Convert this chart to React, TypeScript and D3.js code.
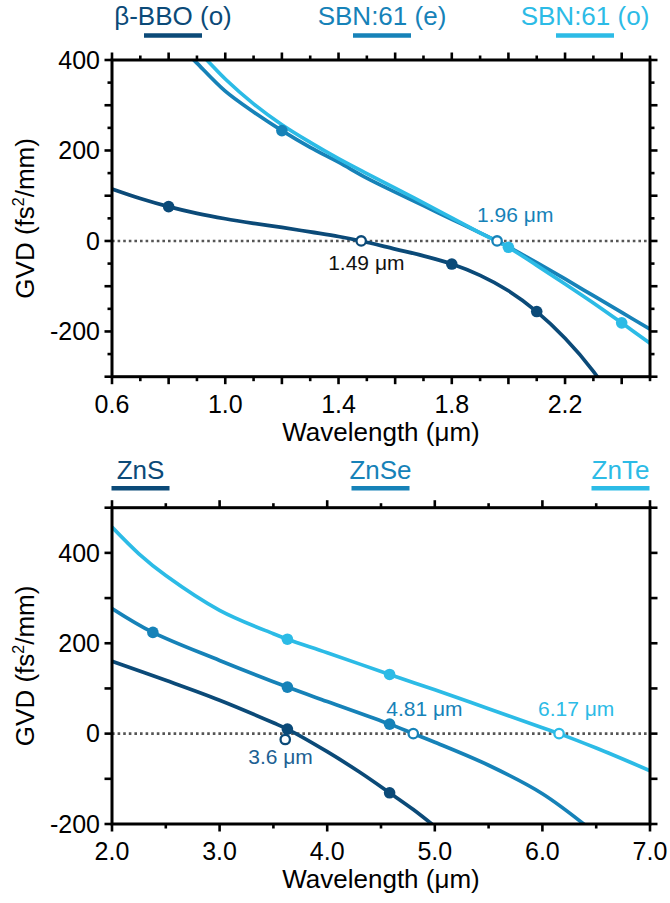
import React from 'react';
import * as d3 from 'd3';

const W = 670;
const H = 903;
const FONT = "'Liberation Sans', Arial, Helvetica, sans-serif";
const DARK = '#0b4a78';
const MED = '#1682b8';
const LIGHT = '#2cbbe6';
const ANN_DARK = '#111111';
const ANN_ZNS = '#1d6193';

// ---------- Top panel data (GVD in fs^2/mm vs wavelength in µm) ----------
const bboWl = [0.6, 0.7, 0.8, 0.9, 1.0, 1.1, 1.2, 1.3, 1.4, 1.48, 1.6, 1.7, 1.8, 1.9, 2.0, 2.1, 2.2, 2.3, 2.34];
const bboGvd = [115, 94, 76, 61, 49, 39, 30, 20, 10, 0, -18, -33, -51, -76, -110, -156, -215, -288, -325];

const sbnEWl = [0.87, 0.9, 1.0, 1.1, 1.2, 1.3, 1.4, 1.5, 1.6, 1.7, 1.8, 1.9, 1.96, 2.0, 2.1, 2.2, 2.3, 2.4, 2.5];
const sbnEGvd = [412, 393, 331, 285, 244, 207, 174, 139, 108, 78, 48, 18, 0, -13, -48, -84, -121, -158, -195];

const sbnOWl = [0.92, 0.95, 1.0, 1.1, 1.2, 1.3, 1.4, 1.5, 1.6, 1.7, 1.8, 1.9, 2.0, 2.1, 2.2, 2.3, 2.4, 2.5];
const sbnOGvd = [410, 390, 358, 303, 257, 218, 182, 149, 117, 84, 51, 18, -14, -54, -95, -137, -181, -226];

const bboDotsWl = [0.8, 1.8, 2.1];
const bboDotsGvd = [76, -51, -156];
const sbnEDotsWl = [1.2];
const sbnEDotsGvd = [244];
const sbnODotsWl = [2.0, 2.4];
const sbnODotsGvd = [-14, -181];
const bboZeroWl = [1.48];
const bboZeroGvd = [0];
const sbnZeroWl = [1.96];
const sbnZeroGvd = [0];

const topXTickLabels = ['0.6', '1.0', '1.4', '1.8', '2.2'];
const topXTickValues = [0.6, 1.0, 1.4, 1.8, 2.2];
const topYTickLabels = ['400', '200', '0', '-200'];
const topYTickValues = [400, 200, 0, -200];

// ---------- Bottom panel data ----------
const znsWl = [2.0, 2.5, 3.0, 3.5, 3.63, 4.0, 4.3, 4.58, 4.8, 5.05];
const znsGvd = [160, 118, 74, 24, 10, -40, -85, -131, -168, -215];

const znseWl = [2.0, 2.38, 3.0, 3.63, 4.0, 4.58, 4.8, 5.0, 5.5, 6.0, 6.5];
const znseGvd = [277, 224, 162, 103, 71, 21, 0, -19, -70, -133, -222];

const znteWl = [2.0, 2.25, 2.5, 3.0, 3.5, 3.63, 4.0, 4.58, 5.0, 5.5, 6.0, 6.155, 6.5, 7.0];
const znteGvd = [457, 398, 350, 273, 221, 209, 179, 131, 97, 55, 13, 0, -32, -82];

const znsDotsWl = [3.63, 4.58];
const znsDotsGvd = [10, -131];
const znsOpenWl = [3.61];
const znsOpenGvd = [-13];
const znseDotsWl = [2.38, 3.63, 4.58];
const znseDotsGvd = [224, 103, 21];
const znseOpenWl = [4.8];
const znseOpenGvd = [0];
const znteDotsWl = [3.63, 4.58];
const znteDotsGvd = [209, 131];
const znteOpenWl = [6.155];
const znteOpenGvd = [0];

const botXTickLabels = ['2.0', '3.0', '4.0', '5.0', '6.0', '7.0'];
const botXTickValues = [2, 3, 4, 5, 6, 7];
const botYTickLabels = ['400', '200', '0', '-200'];
const botYTickValues = [400, 200, 0, -200];

const zip = (a: number[], b: number[]): [number, number][] => a.map((v, i) => [v, b[i]]);

type Series = { pts: [number, number][]; color: string };
type Marks = { pts: [number, number][]; color: string; open: boolean };
type Ann = { text: string; at: [number, number]; dx: number; dy: number; color: string };
type Leg = { text: string; color: string; cx: number };

type PanelCfg = {
  id: string;
  xDomain: [number, number];
  yDomain: [number, number];
  top: number;
  bottom: number;
  xMajor: number[];
  xMinor: number[];
  yMajor: number[];
  yMinor: number[];
  xLabelVals: number[];
  xLabels: string[];
  yLabelVals: number[];
  yLabels: string[];
  series: Series[];
  marks: Marks[];
  anns: Ann[];
  legend: Leg[];
  legendTextY: number;
  legendLineY: number;
};

const X0 = 112;
const X1 = 650;
const MAJ = 7.5;
const MIN = 4.5;

function Panel({ cfg }: { cfg: PanelCfg }) {
  const x = d3.scaleLinear().domain(cfg.xDomain).range([X0, X1]);
  const y = d3.scaleLinear().domain(cfg.yDomain).range([cfg.bottom, cfg.top]);
  const line = d3
    .line<[number, number]>()
    .x((d) => x(d[0]))
    .y((d) => y(d[1]))
    .curve(d3.curveCatmullRom.alpha(0.5));
  const clipId = `clip-${cfg.id}`;
  const midY = (cfg.top + cfg.bottom) / 2;
  const midX = (X0 + X1) / 2;
  return (
    <g>
      <defs>
        <clipPath id={clipId}>
          <rect x={X0} y={cfg.top} width={X1 - X0} height={cfg.bottom - cfg.top} />
        </clipPath>
      </defs>
      {/* legend */}
      {cfg.legend.map((l, i) => (
        <g key={`leg${i}`}>
          <text x={l.cx} y={cfg.legendTextY} textAnchor="middle" fontSize={26} fill={l.color} fontFamily={FONT}>
            {l.text}
          </text>
          <line x1={l.cx - 29} x2={l.cx + 29} y1={cfg.legendLineY} y2={cfg.legendLineY} stroke={l.color} strokeWidth={4.6} />
        </g>
      ))}
      {/* zero line */}
      <line x1={X0} x2={X1} y1={y(0)} y2={y(0)} stroke="#555" strokeWidth={2.6} strokeDasharray="2.6,3" />
      {/* curves */}
      <g clipPath={`url(#${clipId})`}>
        {cfg.series.map((s, i) => (
          <path key={`s${i}`} d={line(s.pts) || ''} fill="none" stroke={s.color} strokeWidth={3.7} strokeLinejoin="round" />
        ))}
      </g>
      {/* markers */}
      {cfg.marks.map((m, i) =>
        m.pts.map((p, j) =>
          m.open ? (
            <circle key={`m${i}-${j}`} cx={x(p[0])} cy={y(p[1])} r={4.7} fill="#fff" stroke={m.color} strokeWidth={2.3} />
          ) : (
            <circle key={`m${i}-${j}`} cx={x(p[0])} cy={y(p[1])} r={5.8} fill={m.color} />
          )
        )
      )}
      {/* annotations */}
      {cfg.anns.map((a, i) => (
        <text key={`a${i}`} x={x(a.at[0]) + a.dx} y={y(a.at[1]) + a.dy} fontSize={21} fill={a.color} fontFamily={FONT}>
          {a.text}
        </text>
      ))}
      {/* frame */}
      <rect x={X0} y={cfg.top} width={X1 - X0} height={cfg.bottom - cfg.top} fill="none" stroke="#000" strokeWidth={3} />
      {/* ticks */}
      <g stroke="#000" strokeWidth={2.6}>
        {cfg.xMajor.map((v) => (
          <g key={`xM${v}`}>
            <line x1={x(v)} x2={x(v)} y1={cfg.bottom} y2={cfg.bottom + MAJ} />
            <line x1={x(v)} x2={x(v)} y1={cfg.top} y2={cfg.top - MAJ} />
          </g>
        ))}
        {cfg.xMinor.map((v) => (
          <g key={`xm${v}`}>
            <line x1={x(v)} x2={x(v)} y1={cfg.bottom} y2={cfg.bottom + MIN} />
            <line x1={x(v)} x2={x(v)} y1={cfg.top} y2={cfg.top - MIN} />
          </g>
        ))}
        {cfg.yMajor.map((v) => (
          <g key={`yM${v}`}>
            <line x1={X0} x2={X0 - MAJ} y1={y(v)} y2={y(v)} />
            <line x1={X1} x2={X1 + MAJ} y1={y(v)} y2={y(v)} />
          </g>
        ))}
        {cfg.yMinor.map((v) => (
          <g key={`ym${v}`}>
            <line x1={X0} x2={X0 - MIN} y1={y(v)} y2={y(v)} />
            <line x1={X1} x2={X1 + MIN} y1={y(v)} y2={y(v)} />
          </g>
        ))}
      </g>
      {/* tick labels */}
      {cfg.xLabelVals.map((v, i) => (
        <text key={`xl${i}`} x={x(v)} y={cfg.bottom + 36} textAnchor="middle" fontSize={25} fontFamily={FONT} fill="#000">
          {cfg.xLabels[i]}
        </text>
      ))}
      {cfg.yLabelVals.map((v, i) => (
        <text key={`yl${i}`} x={100} y={y(v)} dy="0.35em" textAnchor="end" fontSize={25} fontFamily={FONT} fill="#000">
          {cfg.yLabels[i]}
        </text>
      ))}
      {/* axis titles */}
      <text x={midX} y={cfg.bottom + 64} textAnchor="middle" fontSize={26} fontFamily={FONT} fill="#000">
        Wavelength (μm)
      </text>
      <text transform={`translate(34,${midY}) rotate(-90)`} textAnchor="middle" fontSize={26} fontFamily={FONT} fill="#000">
        GVD (fs<tspan fontSize={16} dy={-10}>2</tspan>
        <tspan dy={10}>/mm)</tspan>
      </text>
    </g>
  );
}

const range = (a: number, b: number, s: number) => d3.range(a, b + s / 2, s).map((v) => +v.toFixed(3));

export default function App() {
  const topCfg: PanelCfg = {
    id: 'top',
    xDomain: [0.6, 2.5],
    yDomain: [-300, 400],
    top: 60,
    bottom: 376.7,
    xMajor: range(0.6, 2.4, 0.2),
    xMinor: range(0.7, 2.5, 0.2),
    yMajor: range(-300, 400, 100),
    yMinor: range(-250, 350, 100),
    xLabelVals: topXTickValues,
    xLabels: topXTickLabels,
    yLabelVals: topYTickValues,
    yLabels: topYTickLabels,
    series: [
      { pts: zip(bboWl, bboGvd), color: DARK },
      { pts: zip(sbnEWl, sbnEGvd), color: MED },
      { pts: zip(sbnOWl, sbnOGvd), color: LIGHT },
    ],
    marks: [
      { pts: zip(bboDotsWl, bboDotsGvd), color: DARK, open: false },
      { pts: zip(sbnEDotsWl, sbnEDotsGvd), color: MED, open: false },
      { pts: zip(sbnODotsWl, sbnODotsGvd), color: LIGHT, open: false },
      { pts: zip(bboZeroWl, bboZeroGvd), color: DARK, open: true },
      { pts: zip(sbnZeroWl, sbnZeroGvd), color: MED, open: true },
    ],
    anns: [
      { text: '1.49 μm', at: [1.48, 0], dx: -33, dy: 29, color: ANN_DARK },
      { text: '1.96 μm', at: [1.96, 0], dx: -20, dy: -19, color: MED },
    ],
    legend: [
      { text: 'β-BBO (o)', color: DARK, cx: 173 },
      { text: 'SBN:61 (e)', color: MED, cx: 382 },
      { text: 'SBN:61 (o)', color: LIGHT, cx: 585 },
    ],
    legendTextY: 25,
    legendLineY: 35.5,
  };

  const botCfg: PanelCfg = {
    id: 'bot',
    xDomain: [2, 7],
    yDomain: [-200, 500],
    top: 507.7,
    bottom: 824,
    xMajor: range(2, 7, 1),
    xMinor: range(2.5, 6.5, 1),
    yMajor: range(-200, 500, 100),
    yMinor: [],
    xLabelVals: botXTickValues,
    xLabels: botXTickLabels,
    yLabelVals: botYTickValues,
    yLabels: botYTickLabels,
    series: [
      { pts: zip(znsWl, znsGvd), color: DARK },
      { pts: zip(znseWl, znseGvd), color: MED },
      { pts: zip(znteWl, znteGvd), color: LIGHT },
    ],
    marks: [
      { pts: zip(znsDotsWl, znsDotsGvd), color: DARK, open: false },
      { pts: zip(znseDotsWl, znseDotsGvd), color: MED, open: false },
      { pts: zip(znteDotsWl, znteDotsGvd), color: LIGHT, open: false },
      { pts: zip(znsOpenWl, znsOpenGvd), color: DARK, open: true },
      { pts: zip(znseOpenWl, znseOpenGvd), color: MED, open: true },
      { pts: zip(znteOpenWl, znteOpenGvd), color: LIGHT, open: true },
    ],
    anns: [
      { text: '3.6 μm', at: [3.61, 0], dx: -37, dy: 30, color: ANN_ZNS },
      { text: '4.81 μm', at: [4.8, 0], dx: -27, dy: -18, color: MED },
      { text: '6.17 μm', at: [6.155, 0], dx: -21, dy: -18, color: LIGHT },
    ],
    legend: [
      { text: 'ZnS', color: DARK, cx: 140.5 },
      { text: 'ZnSe', color: MED, cx: 380.5 },
      { text: 'ZnTe', color: LIGHT, cx: 620.5 },
    ],
    legendTextY: 479,
    legendLineY: 488.3,
  };

  return (
    <svg
      width={W}
      height={H}
      viewBox={`0 0 ${W} ${H}`}
      style={{ position: 'absolute', left: 0, top: 0, background: '#fff' }}
    >
      <rect x={0} y={0} width={W} height={H} fill="#fff" />
      <Panel cfg={topCfg} />
      <Panel cfg={botCfg} />
    </svg>
  );
}
